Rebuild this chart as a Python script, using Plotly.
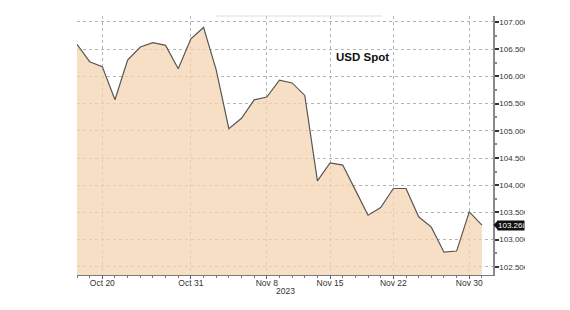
import plotly.graph_objects as go

dates = [
    "2023-10-18", "2023-10-19", "2023-10-20", "2023-10-23", "2023-10-24",
    "2023-10-25", "2023-10-26", "2023-10-27", "2023-10-30", "2023-10-31",
    "2023-11-01", "2023-11-02", "2023-11-03", "2023-11-06", "2023-11-07",
    "2023-11-08", "2023-11-09", "2023-11-10", "2023-11-13", "2023-11-14",
    "2023-11-15", "2023-11-16", "2023-11-17", "2023-11-20", "2023-11-21",
    "2023-11-22", "2023-11-23", "2023-11-24", "2023-11-27", "2023-11-28",
    "2023-11-29", "2023-11-30", "2023-12-01",
]
usd_spot = [
    106.59, 106.27, 106.18, 105.57, 106.30, 106.54, 106.62, 106.57, 106.14, 106.69,
    106.90, 106.12, 105.04, 105.23, 105.57, 105.62, 105.93, 105.88, 105.65, 104.08,
    104.41, 104.37, 103.91, 103.45, 103.59, 103.94, 103.94, 103.42, 103.23, 102.77,
    102.79, 103.51, 103.268,
]
x_tick_vals = ["2023-10-20", "2023-10-31", "2023-11-08", "2023-11-15", "2023-11-22", "2023-11-30"]
x_tick_text = ["Oct 20", "Oct 31", "Nov 8", "Nov 15", "Nov 22", "Nov 30"]
y_tick_vals = [102.5, 103.0, 103.5, 104.0, 104.5, 105.0, 105.5, 106.0, 106.5, 107.0]
y_tick_text = [f"{v:.3f}" for v in y_tick_vals]
title_text = "USD Spot"
year_text = "2023"

FONT = "Liberation Sans"
last_val = usd_spot[-1]
PW = 416  # plot width in px
PH = 259  # plot height in px

fig = go.Figure()
fig.add_trace(go.Scatter(
    x=dates, y=usd_spot, mode="lines",
    line=dict(color="#5a5653", width=1.2),
    fill="tozeroy", fillcolor="rgba(243,212,178,0.75)",
    hoverinfo="skip", showlegend=False,
))

fig.update_layout(
    width=570, height=310,
    margin=dict(l=77, r=77, t=16, b=35),
    paper_bgcolor="white", plot_bgcolor="white",
    font=dict(family=FONT, size=8, color="#333333"),
    xaxis=dict(
        type="date",
        range=["2023-10-18", "2023-12-01 21:00"],
        rangebreaks=[dict(bounds=["sat", "mon"])],
        tickmode="array", tickvals=x_tick_vals, ticktext=x_tick_text,
        ticks="outside", ticklen=3, tickcolor="#555555",
        minor=dict(dtick=86400000, tick0="2023-10-18", ticks="outside", ticklen=2,
                   tickcolor="#777777", showgrid=False),
        showgrid=True, gridcolor="#b4b4b4", griddash="dot", gridwidth=1,
        showline=True, linecolor="#7a7a7a", linewidth=1,
        tickfont=dict(family=FONT, size=8.5, color="#333333"),
        ticklabelstandoff=-3,
        zeroline=False, fixedrange=True,
    ),
    yaxis=dict(
        side="right",
        range=[102.35, 107.11],
        tickmode="array", tickvals=y_tick_vals, ticktext=y_tick_text,
        ticks="outside", ticklen=4, tickwidth=2, tickcolor="#333333",
        minor=dict(dtick=0.25, tick0=102.25, ticks="outside", ticklen=2, tickcolor="#888888", showgrid=False),
        showgrid=True, gridcolor="#b4b4b4", griddash="dot", gridwidth=1,
        showline=True, linecolor="#8a8a8a", linewidth=1.5,
        tickfont=dict(family=FONT, size=8, color="#333333"),
        ticklabelstandoff=-1,
        zeroline=False, fixedrange=True,
    ),
    annotations=[
        dict(text=f"<b>{title_text}</b>", xref="paper", yref="paper",
             x=0.618, y=0.843, xanchor="left", yanchor="middle", showarrow=False,
             font=dict(family=FONT, size=11.5, color="#111111")),
        dict(text=year_text, xref="paper", yref="paper",
             x=0.5, y=-16 / PH, xanchor="center", yanchor="middle", showarrow=False,
             font=dict(family=FONT, size=8.5, color="#333333")),
        dict(text=f"{last_val:.3f}", xref="paper", yref="y",
             x=1.0 + 4 / PW, y=last_val, xanchor="left", yanchor="middle", showarrow=False,
             bgcolor="#111111", font=dict(family=FONT, size=8, color="white"),
             width=26, align="left", borderpad=0),
    ],
    shapes=[
        dict(type="path", xref="paper", yref="y",
             path=f"M {1.0 + 0.5 / PW} {last_val} L {1.0 + 5 / PW} {last_val + 0.09} L {1.0 + 5 / PW} {last_val - 0.09} Z",
             fillcolor="#111111", line=dict(width=0)),
        dict(type="line", xref="paper", yref="paper", x0=0.334, x1=0.733, y0=1.0, y1=1.0,
             line=dict(color="#dddddd", width=1)),
        dict(type="rect", xref="paper", yref="paper", x0=(525 - 77) / PW, x1=1.25, y0=-0.2, y1=1.1,
             fillcolor="white", line=dict(width=0), layer="above"),
    ],
)

fig.write_html("out.html")
